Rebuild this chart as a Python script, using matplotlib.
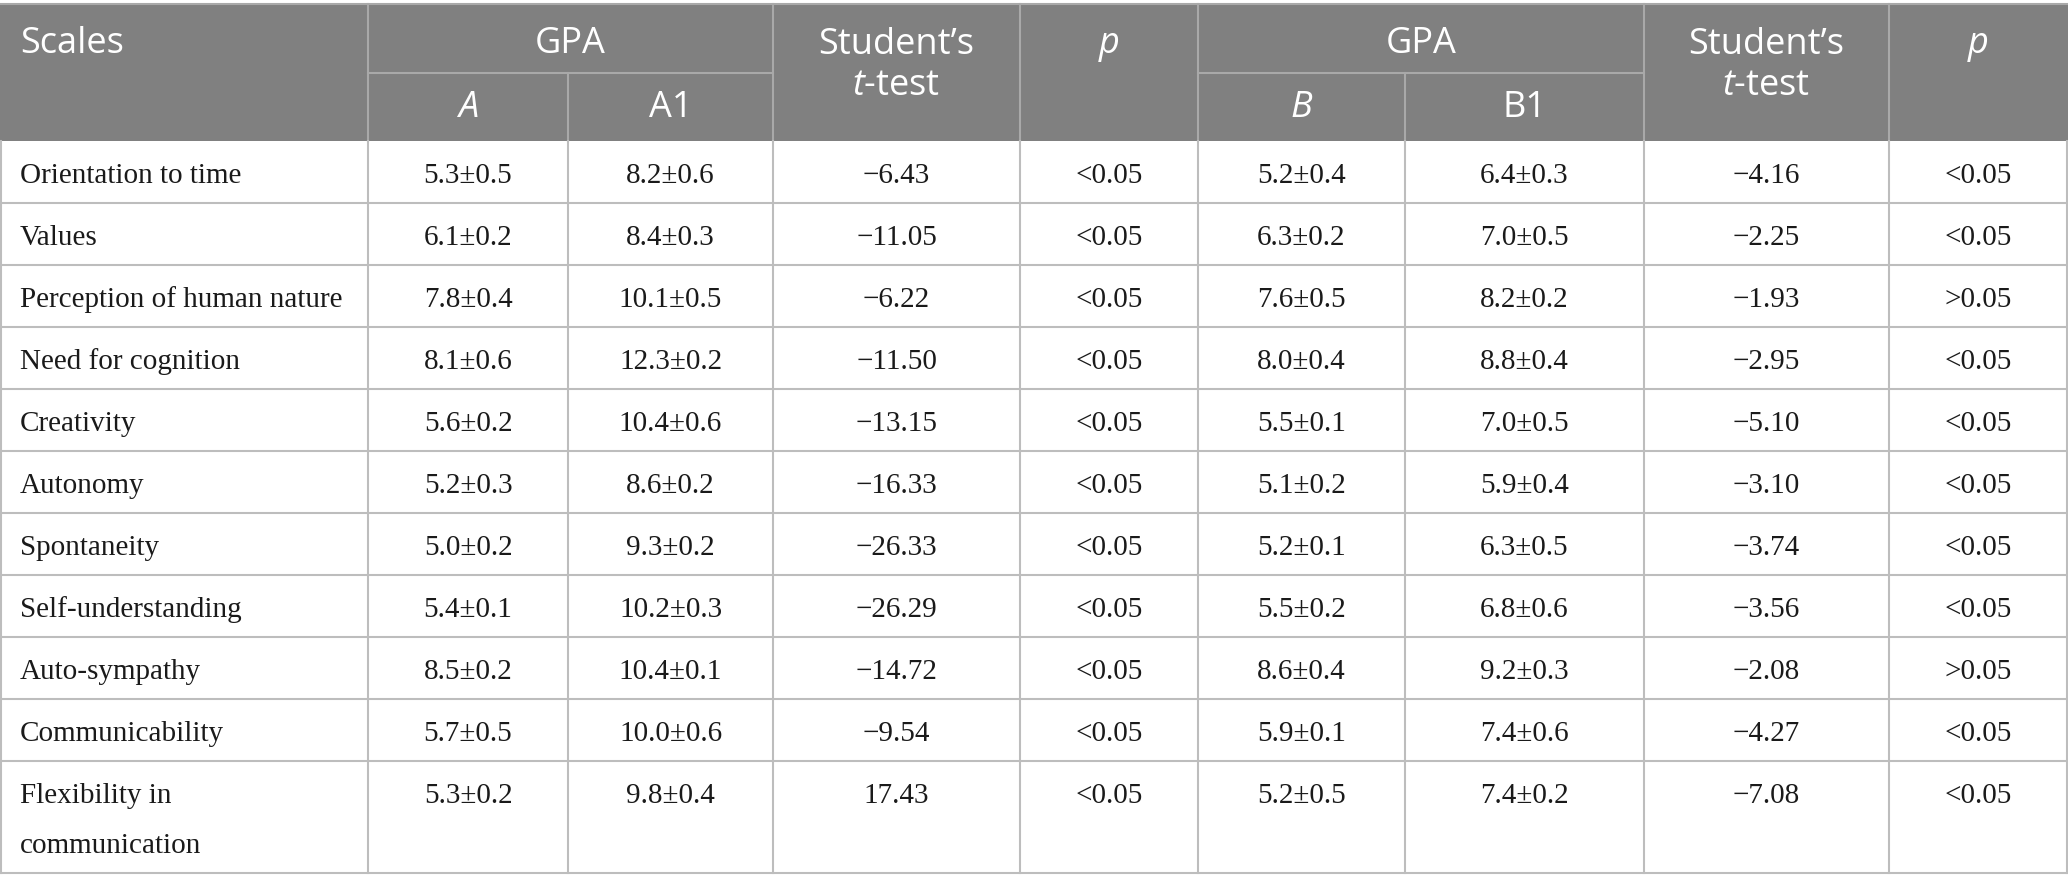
"""
GPA comparison table (scales x groups A/A1 and B/B1) redrawn with matplotlib.
"""
import matplotlib
matplotlib.use('Agg')
import matplotlib.pyplot as plt
from matplotlib.patches import Rectangle

plt.rcParams['mathtext.fontset'] = 'custom'
plt.rcParams['mathtext.it'] = 'Open Sans:italic'
plt.rcParams['mathtext.rm'] = 'Open Sans'

# ---- table data ----
scales = ['Orientation to time', 'Values', 'Perception of human nature',
          'Need for cognition', 'Creativity', 'Autonomy', 'Spontaneity',
          'Self-understanding', 'Auto-sympathy', 'Communicability',
          'Flexibility in\ncommunication']

gpa_a = ['5.3±0.5', '6.1±0.2', '7.8±0.4', '8.1±0.6', '5.6±0.2', '5.2±0.3',
         '5.0±0.2', '5.4±0.1', '8.5±0.2', '5.7±0.5', '5.3±0.2']
gpa_a1 = ['8.2±0.6', '8.4±0.3', '10.1±0.5', '12.3±0.2', '10.4±0.6', '8.6±0.2',
          '9.3±0.2', '10.2±0.3', '10.4±0.1', '10.0±0.6', '9.8±0.4']
t_a = ['−6.43', '−11.05', '−6.22', '−11.50', '−13.15', '−16.33',
       '−26.33', '−26.29', '−14.72', '−9.54', '17.43']
p_a = ['<0.05'] * 11

gpa_b = ['5.2±0.4', '6.3±0.2', '7.6±0.5', '8.0±0.4', '5.5±0.1', '5.1±0.2',
         '5.2±0.1', '5.5±0.2', '8.6±0.4', '5.9±0.1', '5.2±0.5']
gpa_b1 = ['6.4±0.3', '7.0±0.5', '8.2±0.2', '8.8±0.4', '7.0±0.5', '5.9±0.4',
          '6.3±0.5', '6.8±0.6', '9.2±0.3', '7.4±0.6', '7.4±0.2']
t_b = ['−4.16', '−2.25', '−1.93', '−2.95', '−5.10', '−3.10',
       '−3.74', '−3.56', '−2.08', '−4.27', '−7.08']
p_b = ['<0.05', '<0.05', '>0.05', '<0.05', '<0.05', '<0.05',
       '<0.05', '<0.05', '>0.05', '<0.05', '<0.05']

columns = [gpa_a, gpa_a1, t_a, p_a, gpa_b, gpa_b1, t_b, p_b]

# ---- layout (pixel coordinates) ----
W, H = 2068, 891
col_edges = [0, 368, 568, 773, 1020, 1198, 1405, 1644, 1889, 2067]
head_top, head_mid, head_bot = 4, 73, 141
row_h = 62
row_heights = [row_h] * 10 + [112]

HEAD_BG = '#808080'
HEAD_LINE = '#a9a9a9'
BODY_LINE = '#bdbdbd'
head_font = dict(family='Open Sans', color='white', fontsize=26)
body_font = dict(family='Liberation Serif', color='#1a1a1a', fontsize=21)

fig = plt.figure(figsize=(W / 100, H / 100), dpi=100)
ax = fig.add_axes([0, 0, 1, 1])
ax.set_xlim(0, W)
ax.set_ylim(H, 0)
ax.axis('off')

# header background
ax.add_patch(Rectangle((0, head_top), W, head_bot - head_top, color=HEAD_BG, lw=0))
ax.plot([0, W], [head_top, head_top], color=HEAD_LINE, lw=1.5)

# header separators (the GPA sub-columns only split the lower half)
for i, x in enumerate(col_edges[1:-1], start=1):
    if i in (2, 6):
        ax.plot([x, x], [head_mid, head_bot], color=HEAD_LINE, lw=1.5)
    else:
        ax.plot([x, x], [head_top, head_bot], color=HEAD_LINE, lw=1.5)
for x0, x1 in [(col_edges[1], col_edges[3]), (col_edges[5], col_edges[7])]:
    ax.plot([x0, x1], [head_mid, head_mid], color=HEAD_LINE, lw=1.5)


def mid(i):
    return (col_edges[i] + col_edges[i + 1]) / 2


# header texts
y_top = 44
y_sub = 108
ax.text(20, y_top, 'Scales', ha='left', va='center', **head_font)
for g, sub1, sub2 in [(1, 'A', 'A1'), (5, 'B', 'B1')]:
    ax.text((col_edges[g] + col_edges[g + 2]) / 2, y_top, 'GPA',
            ha='center', va='center', **head_font)
    ax.text(mid(g), y_sub, sub1, ha='center', va='center', style='italic', **head_font)
    ax.text(mid(g + 1), y_sub, sub2, ha='center', va='center', **head_font)
for c in (3, 7):
    ax.text(mid(c), 45, 'Student’s', ha='center', va='center', **head_font)
    ax.text(mid(c), 86, r'$t$-test', ha='center', va='center', **head_font)
for c in (4, 8):
    ax.text(mid(c), 44, 'p', ha='center', va='center', style='italic', **head_font)

# body rows
y = head_bot
for r, h in enumerate(row_heights):
    y_text = y + 35
    for k, line in enumerate(scales[r].split('\n')):
        ax.text(20, y_text + k * 50, line, ha='left', va='center', **body_font)
    for c, col in enumerate(columns, start=1):
        ax.text(mid(c), y_text, col[r], ha='center', va='center', **body_font)
    y += h
    ax.plot([0, W], [y, y], color=BODY_LINE, lw=1.5)

# body verticals
for x in col_edges:
    xx = min(max(x, 0.75), W - 0.75)
    ax.plot([xx, xx], [head_bot, y], color=BODY_LINE, lw=1.5)

fig.savefig('out.png', dpi=100)
